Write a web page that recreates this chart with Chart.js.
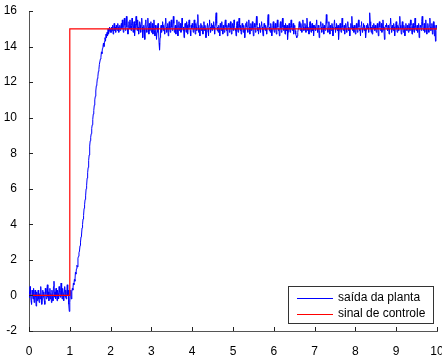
<!DOCTYPE html>
<html lang="pt-BR">
<head>
  <meta charset="UTF-8" />
  <title>Resposta ao degrau</title>
  <script src="https://cdn.jsdelivr.net/npm/chart.js"></script>
  <style>
    html, body { margin: 0; padding: 0; background: #fff; }
    #wrapper { width: 442px; height: 356px; }
  </style>
</head>
<body>

<div id="wrapper">
  <canvas id="grafico" width="442" height="356"></canvas>
</div>

<script>
  // amostragem da saída (passo de 0.0125 s, de 0 a 10 s)
  const dt = 0.0125;

  const saidaPlanta = [
    // 0 .. 1.0
    0.2, -0.1, 0.5, 0.1, -0.3, -0.5, 0.3, 0.0, -0.2, 0.4, -0.4, 0.1, 0.3, -0.1, -0.6, 0.2, -0.3, 0.0, 0.3, -0.2,
    -0.4, 0.1, -0.2, 0.5, 0.0, -0.5, -0.2, 0.3, -0.1, 0.2, -0.3, -0.5, 0.4, 0.1, -0.2, 0.3, 0.6, -0.1, 0.2, -0.3,
    0.0, 0.4, -0.2, 0.1, -0.4, 0.3, 0.0, -0.3, 0.5, 0.8, -0.1, 0.2, -0.2, 0.4, 0.0, -0.3, 0.3, 0.1, -0.2, 0.5,
    0.2, -0.1, 0.3, 0.7, 0.0, -0.2, 0.4, 0.1, -0.3, 0.2, 0.5, -0.1, 0.3, -0.2, 0.1, 0.6, 0.0, 0.3, -0.5, -0.9,
    -0.4,
    // subida 1.0125 .. 2.0
    0.1, 0.3, -0.2, 0.2, 0.4, 0.3, 0.7, 0.6, 0.9, 0.8, 1.3, 1.2, 1.5, 1.7, 1.6, 2.1, 2.2, 2.4, 2.5, 2.8,
    3.0, 3.3, 3.4, 3.8, 4.0, 4.3, 4.5, 4.9, 5.1, 5.4, 5.6, 6.0, 6.2, 6.6, 6.9, 7.2, 7.6, 7.9, 8.4, 8.7,
    8.9, 9.1, 9.4, 9.6, 9.9, 10.2, 10.4, 10.7, 11.0, 11.2, 11.5, 11.8, 11.9, 12.2, 12.3, 12.6, 12.7, 13.0, 13.0, 13.3,
    13.4, 13.7, 13.6, 13.9, 14.0, 14.2, 14.0, 14.3, 14.5, 14.3, 14.7, 14.5, 14.8, 14.6, 15.0, 14.7, 14.9, 15.1, 14.8, 15.0,
    // regime 2.0125 .. 10
    14.8, 15.1, 14.9, 15.2, 14.7, 15.0, 15.3, 14.9, 15.1, 14.8, 15.2, 15.0, 14.9, 15.3, 15.1, 14.8, 15.0, 15.2, 14.9, 15.1,
    15.3, 15.0, 15.5, 15.1, 14.8, 15.4, 15.6, 15.2, 14.9, 15.3, 15.7, 15.1, 15.0, 14.7, 15.2, 15.4, 15.0, 15.5, 15.1, 14.9,
    15.2, 15.6, 15.3, 14.8, 15.1, 15.4, 14.6, 15.0, 15.3, 15.7, 15.2, 14.9, 15.5, 15.1, 14.7, 15.0, 15.4, 15.2, 14.8, 15.3,
    15.6, 15.1, 14.5, 14.9, 15.2, 15.0, 14.4, 15.3, 15.5, 15.0, 14.8, 15.2, 15.6, 15.1, 14.7, 15.3, 14.9, 15.1, 15.4, 14.8,
    15.0, 15.3, 14.7, 15.1, 15.5, 14.9, 14.6, 15.2, 15.0, 14.4, 14.8, 15.1, 15.3, 14.9, 14.2, 13.8, 14.5, 15.0, 15.2, 14.8,
    15.1, 15.4, 14.9, 15.2, 15.0, 14.7, 15.3, 15.6, 15.1, 14.8, 15.0, 15.3, 14.6, 15.1, 15.4, 15.0, 14.8, 15.2, 15.5, 15.1,
    14.9, 15.2, 15.7, 15.3, 14.8, 15.0, 15.2, 14.7, 15.1, 15.5, 15.0, 14.6, 15.2, 15.4, 14.9, 15.1, 15.3, 14.8, 15.0, 15.6,
    15.2, 14.9, 15.1, 14.5, 15.0, 15.3, 15.1, 14.8, 15.4, 15.2, 14.7, 15.0, 15.3, 15.5, 15.1, 14.9, 14.6, 15.2, 15.0, 15.3,
    15.1, 14.8, 15.2, 15.5, 15.0, 14.7, 15.3, 15.1, 14.9, 15.4, 15.8, 15.2, 14.8, 15.0, 14.6, 15.1, 15.3, 14.9, 15.2, 15.0,
    14.7, 15.1, 15.4, 14.9, 15.2, 15.0, 14.5, 14.8, 15.1, 15.3, 15.0, 14.6, 15.2, 15.5, 15.1, 14.8, 15.0, 15.3, 14.9, 15.2,
    15.0, 15.4, 15.1, 14.7, 15.2, 15.6, 15.9, 15.3, 14.9, 15.1, 14.8, 15.2, 15.0, 14.6, 15.3, 15.1, 14.9, 15.4, 15.0, 14.7,
    15.2, 15.0, 14.8, 15.3, 15.5, 15.1, 14.9, 15.2, 14.6, 15.0, 15.3, 15.1, 14.8, 15.2, 15.4, 15.0, 14.7, 15.1, 15.3, 14.9,
    15.1, 15.5, 15.2, 14.9, 15.0, 14.6, 15.2, 15.4, 15.0, 14.8, 15.3, 15.6, 15.1, 14.9, 15.2, 14.7, 15.0, 15.3, 15.1, 14.8,
    15.2, 15.0, 14.5, 14.9, 15.3, 15.1, 15.4, 15.0, 14.8, 15.2, 15.5, 15.1, 14.7, 15.0, 15.3, 14.9, 15.1, 15.4, 15.0, 14.6,
    15.0, 15.3, 15.1, 14.8, 15.2, 15.7, 15.2, 14.9, 15.1, 14.7, 15.0, 15.3, 15.0, 14.8, 15.2, 15.4, 15.1, 14.9, 14.6, 15.0,
    15.3, 15.1, 14.9, 15.2, 15.0, 14.7, 15.1, 15.5, 15.8, 15.2, 14.9, 15.1, 14.8, 15.3, 15.0, 14.6, 14.9, 15.2, 15.4, 15.0,
    14.8, 15.1, 15.3, 15.0, 14.7, 15.2, 15.5, 15.1, 14.9, 15.0, 14.6, 15.2, 15.4, 15.0, 14.8, 15.3, 15.6, 15.1, 14.9, 15.2,
    15.0, 14.7, 15.3, 15.1, 14.9, 15.2, 14.4, 14.8, 15.1, 15.3, 15.0, 14.8, 15.2, 15.5, 15.1, 14.9, 15.0, 15.3, 14.7, 15.1,
    15.2, 14.9, 14.7, 14.6, 14.5, 14.6, 14.8, 15.0, 15.2, 15.4, 15.1, 14.9, 15.3, 15.0, 14.8, 15.2, 15.5, 15.1, 14.9, 15.0,
    15.3, 15.1, 14.8, 15.2, 15.6, 15.1, 14.9, 15.0, 14.7, 15.2, 15.4, 15.0, 14.8, 15.1, 15.3, 14.9, 15.2, 14.6, 15.0, 15.2,
    15.1, 14.9, 15.3, 15.5, 15.0, 14.8, 15.2, 15.1, 14.5, 14.9, 15.2, 15.4, 15.1, 14.8, 15.0, 15.3, 15.1, 14.7, 15.2, 15.0,
    14.9, 15.2, 15.8, 15.3, 15.0, 14.8, 15.1, 15.4, 15.0, 14.7, 15.2, 15.0, 14.9, 15.3, 15.1, 14.6, 15.0, 15.2, 15.5, 15.1,
    14.8, 15.0, 15.3, 15.1, 14.9, 15.2, 14.4, 14.9, 15.1, 15.3, 15.0, 14.8, 15.2, 15.6, 15.1, 14.9, 15.0, 15.2, 14.7, 15.1,
    15.3, 15.0, 14.8, 15.2, 15.4, 15.1, 14.9, 15.0, 14.6, 15.1, 15.3, 15.0, 15.7, 15.2, 14.9, 15.1, 14.8, 15.2, 15.0, 14.7,
    15.1, 15.3, 15.0, 14.8, 15.2, 15.5, 15.1, 14.9, 15.0, 14.6, 15.2, 15.4, 15.0, 14.8, 15.1, 15.3, 14.9, 15.2, 15.0, 14.5,
    14.9, 15.2, 15.0, 15.3, 15.1, 14.8, 15.2, 15.9, 15.4, 15.0, 14.8, 15.1, 14.7, 15.2, 15.0, 15.3, 15.1, 14.9, 15.2, 15.0,
    14.8, 15.1, 15.3, 15.0, 14.6, 15.2, 15.4, 15.1, 14.9, 15.0, 15.3, 14.8, 15.2, 15.5, 15.1, 14.9, 14.4, 15.0, 15.2, 15.1,
    15.3, 15.0, 14.9, 15.2, 15.1, 14.7, 15.0, 15.3, 15.6, 15.1, 14.8, 15.2, 15.0, 14.9, 15.3, 15.1, 14.6, 15.0, 15.2, 15.4,
    15.0, 14.8, 15.2, 15.1, 14.9, 15.3, 15.7, 15.2, 15.0, 14.7, 15.1, 15.4, 15.0, 14.8, 15.2, 15.0, 14.6, 15.1, 15.3, 15.0,
    14.9, 15.2, 15.0, 14.8, 15.3, 15.1, 14.9, 15.5, 15.2, 15.0, 14.7, 15.1, 15.3, 15.0, 14.8, 15.2, 15.6, 15.1, 14.9, 15.0,
    15.2, 14.8, 15.1, 15.3, 14.5, 15.0, 15.2, 15.1, 14.9, 15.4, 15.7, 15.2, 14.9, 15.0, 15.3, 14.8, 15.1, 15.5, 15.0, 14.7,
    15.1, 15.3, 15.0, 14.8, 15.2, 15.6, 15.1, 14.9, 15.0, 15.3, 14.7, 15.1, 15.4, 15.0, 14.6, 15.2, 14.3, 14.9, 15.2, 15.0
  ];

  // sinal de controle (degrau em t = 1)
  const controleT = [0, 1, 1, 10];
  const controleY = [0, 0, 15, 15];

  const ticksX = [0, 1, 2, 3, 4, 5, 6, 7, 8, 9, 10];
  const ticksY = [-2, 0, 2, 4, 6, 8, 10, 12, 14, 16];

  const rotulos = ['saída da planta', 'sinal de controle'];
  const cores = ['#0000ff', '#ff0000'];

  const pontosPlanta = saidaPlanta.map((y, i) => ({ x: i * dt, y: y }));
  const pontosControle = controleT.map((t, i) => ({ x: t, y: controleY[i] }));

  const fonte = { family: "'Liberation Sans', Arial, sans-serif", size: 12 };

  // marcas de escala para dentro + legenda dentro do gráfico, estilo matlab
  const estiloMatlab = {
    id: 'estiloMatlab',
    afterDraw(chart) {
      const ctx = chart.ctx;
      const area = chart.chartArea;
      const sx = chart.scales.x;
      const sy = chart.scales.y;

      ctx.save();
      ctx.strokeStyle = '#222';
      ctx.lineWidth = 1;
      ctx.beginPath();
      ticksX.forEach(v => {
        const px = Math.round(sx.getPixelForValue(v)) + 0.5;
        ctx.moveTo(px, area.bottom);
        ctx.lineTo(px, area.bottom - 4);
      });
      ticksY.forEach(v => {
        const py = Math.round(sy.getPixelForValue(v)) + 0.5;
        ctx.moveTo(area.left, py);
        ctx.lineTo(area.left + 4, py);
      });
      ctx.stroke();

      // legenda
      const bx = 288.5, by = 286.5, bw = 145, bh = 37;
      ctx.fillStyle = '#fff';
      ctx.fillRect(bx, by, bw, bh);
      ctx.strokeStyle = '#333';
      ctx.strokeRect(bx, by, bw, bh);

      ctx.font = "12px 'Liberation Sans', Arial, sans-serif";
      ctx.textBaseline = 'middle';
      rotulos.forEach((r, i) => {
        const y = by + 11.5 + i * 16;
        ctx.strokeStyle = cores[i];
        ctx.beginPath();
        ctx.moveTo(297, Math.round(y) + 0.5);
        ctx.lineTo(333, Math.round(y) + 0.5);
        ctx.stroke();
        ctx.fillStyle = '#000';
        ctx.fillText(r, 338, y);
      });
      ctx.restore();
    }
  };

  new Chart(document.getElementById('grafico'), {
    type: 'line',
    data: {
      datasets: [
        {
          label: rotulos[0],
          data: pontosPlanta,
          borderColor: cores[0],
          borderWidth: 1,
          pointRadius: 0,
          tension: 0,
          order: 1
        },
        {
          label: rotulos[1],
          data: pontosControle,
          borderColor: cores[1],
          borderWidth: 1.2,
          pointRadius: 0,
          tension: 0,
          order: 0
        }
      ]
    },
    options: {
      responsive: false,
      animation: false,
      events: [],
      layout: {
        autoPadding: false,
        padding: { left: 0, top: 11, right: 5, bottom: 0 }
      },
      plugins: {
        legend: { display: false },
        tooltip: { enabled: false }
      },
      scales: {
        x: {
          type: 'linear',
          min: 0,
          max: 10,
          afterFit(s) { s.height = 25; s.paddingLeft = 0; s.paddingRight = 0; },
          afterBuildTicks(s) { s.ticks = ticksX.map(v => ({ value: v })); },
          grid: { display: false },
          border: { display: true, color: '#555', width: 1 },
          ticks: { color: '#000', font: fonte, padding: 5, maxRotation: 0 }
        },
        y: {
          type: 'linear',
          min: -2,
          max: 16,
          afterFit(s) { s.width = 29; s.paddingTop = 0; s.paddingBottom = 0; },
          afterBuildTicks(s) { s.ticks = ticksY.map(v => ({ value: v })); },
          grid: { display: false },
          border: { display: true, color: '#555', width: 1 },
          ticks: { color: '#000', font: fonte, padding: 4 }
        }
      }
    },
    plugins: [estiloMatlab]
  });
</script>

</body>
</html>
